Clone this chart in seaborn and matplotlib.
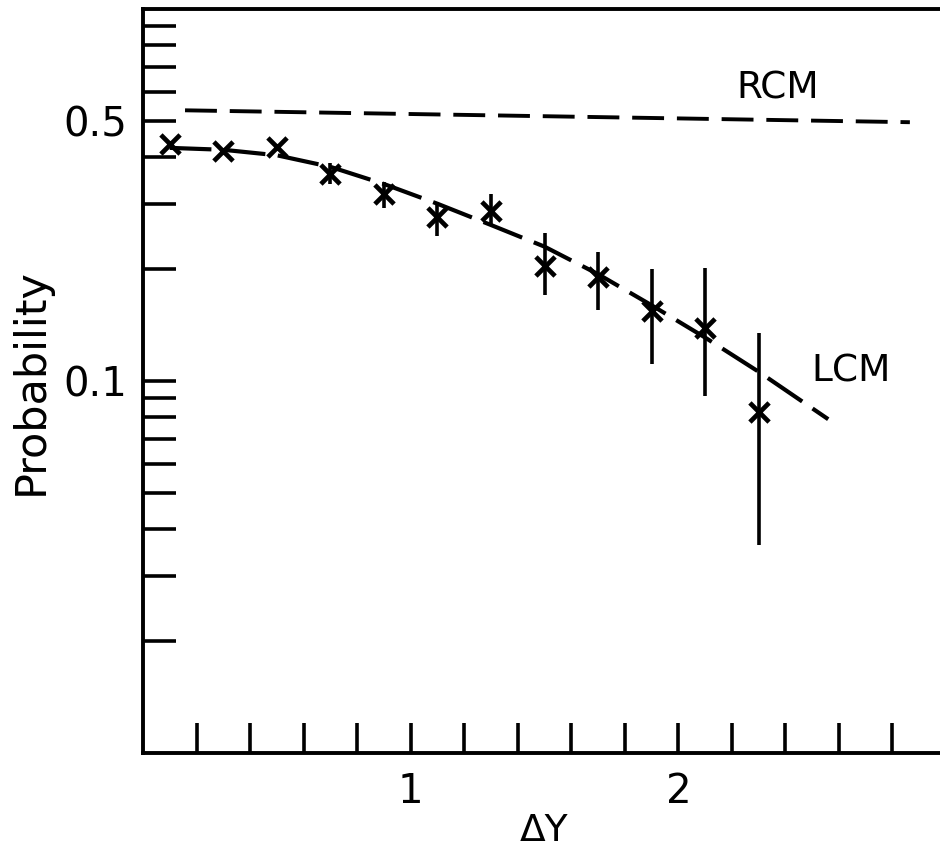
import matplotlib
matplotlib.use("Agg")
import matplotlib.pyplot as plt
from matplotlib.ticker import FixedLocator, FixedFormatter, NullFormatter
import seaborn as sns

delta_y = [0.1, 0.3, 0.5, 0.7, 0.9, 1.1, 1.3, 1.5, 1.7, 1.9, 2.1, 2.3]
prob = [0.433, 0.415, 0.426, 0.361, 0.319, 0.276, 0.287, 0.204, 0.191, 0.154, 0.139, 0.0824]
prob_hi = [0.433, 0.415, 0.426, 0.385, 0.344, 0.303, 0.318, 0.251, 0.222, 0.200, 0.202, 0.135]
prob_lo = [0.433, 0.415, 0.426, 0.338, 0.293, 0.245, 0.264, 0.171, 0.155, 0.111, 0.091, 0.0362]

# curvas de los modelos
lcm_x = [0.1, 0.3, 0.5, 0.7, 0.9, 1.1, 1.3, 1.5, 1.7, 1.9, 2.1, 2.3, 2.56]
lcm_y = [0.424, 0.419, 0.405, 0.377, 0.339, 0.300, 0.263, 0.230, 0.194, 0.160, 0.131, 0.106, 0.079]
rcm_x = [0.157, 2.865]
rcm_y = [0.535, 0.497]

# marcas de los ejes
y_major = [0.1, 0.5]
y_major_labels = ['0.1', '0.5']
y_minor = [0.02, 0.03, 0.04, 0.05, 0.06, 0.07, 0.08, 0.09, 0.2, 0.3, 0.4, 0.6, 0.7, 0.8, 0.9]
x_major = [1, 2]
x_major_labels = ['1', '2']
x_minor = [0.2, 0.4, 0.6, 0.8, 1.2, 1.4, 1.6, 1.8, 2.2, 2.4, 2.6, 2.8]

sns.set_style('white')
plt.rcParams['font.family'] = ['DejaVu Sans']
plt.rcParams['axes.edgecolor'] = 'black'
plt.rcParams['axes.labelcolor'] = 'black'
plt.rcParams['text.color'] = 'black'
plt.rcParams['axes.linewidth'] = 2.8

fig = plt.figure(figsize=(9.4, 8.56), dpi=100)
# el marco sigue un poco más allá del borde derecho, como en el escaneo
ax = fig.add_axes([143 / 940, 1 - 753 / 856, 803 / 940, (753 - 9.3) / 856])
ax.set_yscale('log')

sns.lineplot(x=rcm_x, y=rcm_y, ax=ax, color='black', lw=2.8, errorbar=None)
ax.lines[-1].set_dashes([8.2, 3.3])
sns.lineplot(x=lcm_x, y=lcm_y, ax=ax, color='black', lw=3.0, errorbar=None)
ax.lines[-1].set_dashes([10, 3])

ax.vlines(delta_y, prob_lo, prob_hi, colors='black', lw=2.6)
sns.scatterplot(x=delta_y, y=prob, ax=ax, marker='x', s=190, color='black', linewidth=3.4, zorder=5)

ax.set_xlim(0, 3)
ax.set_ylim(0.01, 1.0)

ax.yaxis.set_major_locator(FixedLocator(y_major))
ax.yaxis.set_major_formatter(FixedFormatter(y_major_labels))
ax.yaxis.set_minor_locator(FixedLocator(y_minor))
ax.yaxis.set_minor_formatter(NullFormatter())
ax.xaxis.set_major_locator(FixedLocator(x_major))
ax.xaxis.set_major_formatter(FixedFormatter(x_major_labels))
ax.xaxis.set_minor_locator(FixedLocator(x_minor))
ax.xaxis.set_minor_formatter(NullFormatter())

ax.tick_params(axis='y', which='both', direction='in', length=24, width=2.6,
               colors='black', labelsize=29, pad=11, left=True)
ax.tick_params(axis='x', which='both', direction='in', length=21.5, width=2.6,
               colors='black', labelsize=29, pad=14, bottom=True)

ax.text(2.37, 0.614, 'RCM', fontsize=27, ha='center', va='center')
ax.text(2.645, 0.1063, 'LCM', fontsize=27, ha='center', va='center')

ax.set_xlabel('ΔY', fontsize=27, labelpad=0.5)
ax.set_ylabel('Probability', fontsize=31)
ax.yaxis.set_label_coords(-0.114, 0.5)

plt.savefig('out.png', dpi=100)
plt.close()
